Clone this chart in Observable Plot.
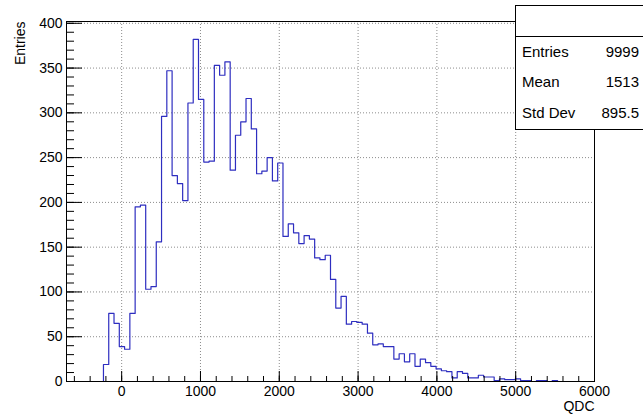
<!DOCTYPE html>
<html><head><meta charset="utf-8">
<script src="https://cdn.jsdelivr.net/npm/d3@7"></script>
<script src="https://cdn.jsdelivr.net/npm/@observablehq/plot@0.6"></script>
<style>
body{margin:0;background:#fff;}
#chart{position:relative;width:643px;height:417px;overflow:hidden;}
</style>
</head><body><div id="chart"></div>
<script>
// Histogram: 100 bins from -700 to 6000
const binLow = -700;
const binHigh = 6000;
const counts = [
  0,0,0,0,0,0,0,19,76,65,
  39,36,76,195,197,103,106,156,296,347,
  230,221,202,311,382,315,245,246,353,342,
  357,236,275,290,316,282,232,235,250,224,
  244,162,176,166,154,163,159,138,136,141,
  114,82,95,64,67,66,64,54,41,42,
  39,39,25,31,22,31,17,25,21,17,
  14,12,11,4,11,9,4,4,7,5,
  5,1,3,2,2,3,1,1,0,1,
  1,0,1,0,0,0,0,0,0,0
];
const xMajorTicks = [0,1000,2000,3000,4000,5000,6000];
const xMinorTicks = [-600,-400,-200,0,200,400,600,800,1000,1200,1400,1600,1800,2000,2200,2400,2600,2800,3000,3200,3400,3600,3800,4000,4200,4400,4600,4800,5000,5200,5400,5600,5800,6000];
const yMajorTicks = [0,50,100,150,200,250,300,350,400];
const yMinorTicks = d3.range(0, 401, 10);
const xTitle = "QDC";
const yTitle = "Entries";
const statsLabels = ["Entries","Mean","Std Dev"];
const statsValues = ["9999","1513","895.5"];

const binWidth = (binHigh - binLow) / counts.length;
const steps = counts.map((c, i) => ({x: binLow + i * binWidth, y: c}));
steps.push({x: binHigh, y: counts[counts.length - 1]});

const W = 643, H = 417, mL = 66, mR = 49, mT = 21, mB = 36;
const plotW = W - mL - mR, plotH = H - mT - mB;
const font = '"Liberation Sans", Arial, Helvetica, sans-serif';
const gridStyle = {stroke: "#8c8c8c", strokeDasharray: "1,2", strokeWidth: 1};

const chart = Plot.plot({
  width: W, height: H,
  marginLeft: mL, marginRight: mR, marginTop: mT, marginBottom: mB,
  style: {fontFamily: font, fontSize: "14px", background: "#fff", color: "#000", overflow: "visible"},
  x: {domain: [binLow, binHigh], ticks: xMajorTicks, tickSize: 0, tickPadding: 5, tickFormat: "d", label: null},
  y: {domain: [0, 402], ticks: yMajorTicks, tickSize: 0, tickPadding: 4, tickFormat: "d", label: null},
  marks: [
    Plot.ruleX(xMajorTicks.filter(v => v > binLow && v < binHigh), {x: d => d, ...gridStyle}),
    Plot.ruleY(yMajorTicks.filter(v => v > 0), {y: d => d, ...gridStyle}),
    Plot.line(steps, {x: "x", y: "y", curve: "step-after", stroke: "#2e2ec0", strokeWidth: 1.2}),
    Plot.tickX(xMinorTicks, {x: d => d, insetTop: plotH - 5, stroke: "#000"}),
    Plot.tickX(xMajorTicks, {x: d => d, insetTop: plotH - 10, stroke: "#000"}),
    Plot.tickY(yMinorTicks, {y: d => d, insetRight: plotW - 8, stroke: "#000"}),
    Plot.tickY(yMajorTicks, {y: d => d, insetRight: plotW - 16, stroke: "#000"}),
    Plot.frame({stroke: "#000"}),
    Plot.text([xTitle], {text: d => d, frameAnchor: "bottom-right", dy: 29, textAnchor: "end", lineAnchor: "bottom", fontSize: 14}),
    Plot.text([yTitle], {text: d => d, frameAnchor: "top-left", dx: -42, rotate: -90, textAnchor: "end", lineAnchor: "bottom", fontSize: 14})
  ]
});

// Stats box (ROOT-style), drawn on top of the plot
const svg = d3.select(chart);
const g = svg.append("g").attr("font-family", font).attr("font-size", 15).attr("text-anchor", "start").attr("fill", "#000");
g.append("rect").attr("x", 515.5).attr("y", 5.5).attr("width", 140).attr("height", 124)
  .attr("fill", "#fff").attr("stroke", "#000");
g.append("line").attr("x1", 515.5).attr("x2", 660).attr("y1", 36.5).attr("y2", 36.5).attr("stroke", "#000");
const rowBase = [57, 87, 118];
statsLabels.forEach((t, i) => {
  g.append("text").attr("x", 522).attr("y", rowBase[i]).attr("text-anchor", "start").text(t);
  g.append("text").attr("x", 639).attr("y", rowBase[i]).attr("text-anchor", "end").text(statsValues[i]);
});

document.getElementById("chart").appendChild(chart);
</script>
</body></html>
